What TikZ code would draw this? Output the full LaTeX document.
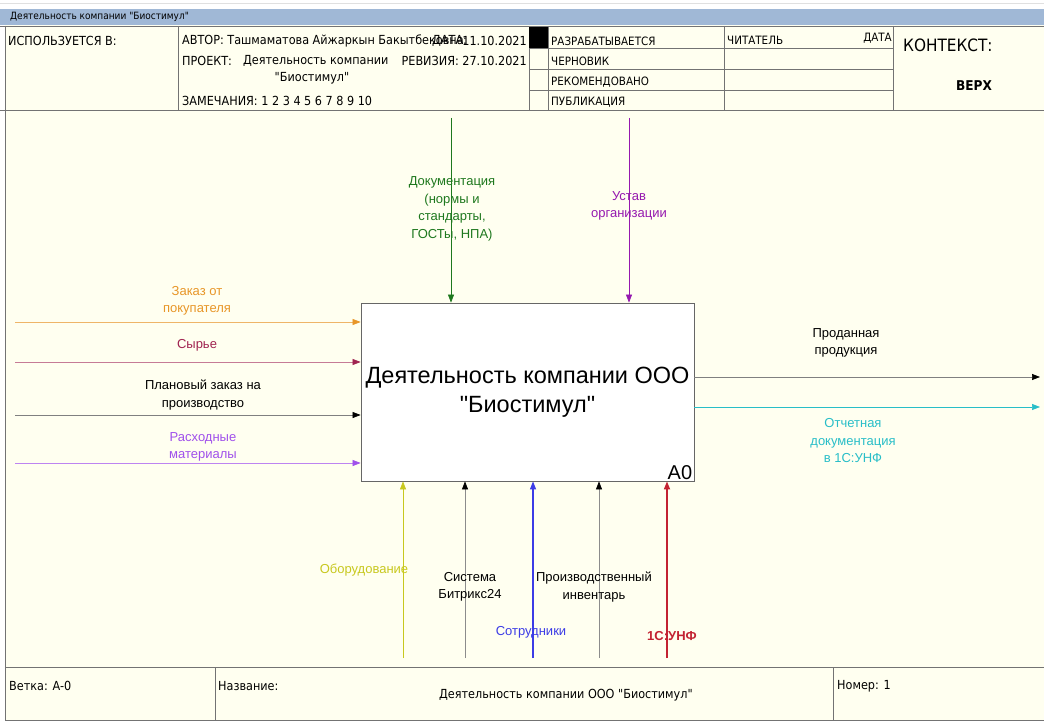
\documentclass[tikz,border=0pt]{standalone}
\usepackage{fontspec}
\setmainfont{Liberation Sans}
\newfontfamily\arialfont{Liberation Sans}
\newfontfamily\hdrfont{DejaVu Sans Condensed}
\usetikzlibrary{arrows.meta}

\definecolor{paper}{RGB}{255,255,240}
\definecolor{titlebar}{RGB}{160,184,214}
\definecolor{ordclr}{RGB}{232,150,40}
\definecolor{rawclr}{RGB}{160,35,80}
\definecolor{supclr}{RGB}{160,80,235}
\definecolor{docclr}{RGB}{30,120,30}
\definecolor{chrclr}{RGB}{150,25,175}
\definecolor{repclr}{RGB}{40,190,200}
\definecolor{eqpclr}{RGB}{200,200,30}
\definecolor{empclr}{RGB}{60,60,230}
\definecolor{unfclr}{RGB}{195,35,50}

\begin{document}
\begin{tikzpicture}[x=1pt,y=-1pt,
    rule/.style={draw=black!55,line width=0.6pt},
    hd/.style={anchor=west,inner sep=0pt,font=\hdrfont\fontsize{12.5}{14}\selectfont},
    cell/.style={hd,font=\hdrfont\fontsize{11.5}{13}\selectfont},
    lbl/.style={align=center,inner sep=0pt,font=\arialfont\fontsize{13}{17.5}\selectfont},
    flow/.style 2 args={draw=#1,line width=0.7pt,-{Triangle[length=8pt,width=6pt,color=#2]}}]

  \useasboundingbox (0,0) rectangle (1044,722);
  % window strip and title bar
  \fill[white] (0,0) rectangle (1044,9);
  \draw[black!12] (0,3) -- (1044,3);
  \fill[titlebar] (0,9) rectangle (1044,25);
  \node[anchor=west,inner sep=0pt,font=\hdrfont\fontsize{10}{11}\selectfont] (ttl) at (10,17) {Деятельность компании "Биостимул"};
  \fill[paper] (5,25) rectangle (1044,720);

  % header
  \draw[rule,line width=0.9pt] (0,26) -- (1044,26) (0,110) -- (1044,110);
  \draw[rule] (178,26) -- (178,110) (529,26) -- (529,110) (548,26) -- (548,110)
              (724,26) -- (724,110) (893,26) -- (893,110);
  \draw[rule] (529,48) -- (893,48) (529,69) -- (893,69) (529,90) -- (893,90);
  \fill[black] (529,27) rectangle (548,48);
  \node[hd] (used) at (8,41) {ИСПОЛЬЗУЕТСЯ В:};
  \node[hd] (auth) at (182,41) {АВТОР: Ташмаматова Айжаркын Бакытбековна};
  \node[hd] (date) at (432,41) {ДАТА:};
  \node[hd,anchor=east] (dval) at (527,41) {11.10.2021};
  \node[hd] (proj) at (182,61) {ПРОЕКТ:};
  \node[hd] (pnam) at (243,61) {Деятельность компании};
  \node[hd,anchor=east] (rev) at (527,61) {РЕВИЗИЯ: 27.10.2021};
  \node[hd,anchor=center] (pnam2) at (312,78) {"Биостимул"};
  \node[hd] (notes) at (182,101) {ЗАМЕЧАНИЯ: 1 2 3 4 5 6 7 8 9 10};
  \node[cell] (st1) at (551,41) {РАЗРАБАТЫВАЕТСЯ};
  \node[cell] (st2) at (551,61) {ЧЕРНОВИК};
  \node[cell] (st3) at (551,82) {РЕКОМЕНДОВАНО};
  \node[cell] (st4) at (551,102) {ПУБЛИКАЦИЯ};
  \node[cell] (rdr) at (727,40) {ЧИТАТЕЛЬ};
  \node[cell,anchor=east] (rdt) at (892,38) {ДАТА};
  \node[hd,font=\hdrfont\fontsize{17}{19}\selectfont] (ctx) at (903,45) {КОНТЕКСТ:};
  \node[hd,anchor=center,font=\hdrfont\bfseries\fontsize{13.5}{15}\selectfont] (top) at (974,86) {ВЕРХ};

  % footer
  \draw[rule,line width=0.9pt] (5,667) -- (1044,667) (5,720) -- (1044,720) (5,26) -- (5,720);
  \draw[rule] (215,667) -- (215,720) (833,667) -- (833,720);
  \node[hd] (node) at (9,686) {Ветка: A-0};
  \node[hd] (name) at (218,686) {Название:};
  \node[hd,anchor=center] (title) at (566,695) {Деятельность компании ООО "Биостимул"};
  \node[hd] (num) at (837,686) {Номер: 1};

  % activity box
  \node[draw=black!60,line width=0.8pt,fill=white,minimum width=333pt,minimum height=178pt,
        align=center,font=\arialfont\fontsize{23.5}{29}\selectfont,inner sep=0pt] (act) at (527.5,392)
        {Деятельность компании ООО\\"Биостимул"};
  \node[anchor=south east,inner sep=2pt,font=\arialfont\fontsize{20}{22}\selectfont] (a0) at (act.south east) {A0};

  % inputs
  \coordinate (ord) at (15,322);
  \coordinate (raw) at (15,362);
  \coordinate (pln) at (15,415);
  \coordinate (sup) at (15,463);
  \draw[flow={ordclr!70}{ordclr}] (ord) -- (ord -| act.west);
  \draw[flow={rawclr!60}{rawclr}] (raw) -- (raw -| act.west);
  \draw[flow={black!50}{black}] (pln) -- (pln -| act.west);
  \draw[flow={supclr!70}{supclr}] (sup) -- (sup -| act.west);
  \node[lbl,text=ordclr] (ordl) at (197,301) {Заказ от\\покупателя};
  \node[lbl,text=rawclr] (rawl) at (197,345) {Сырье};
  \node[lbl] (plnl) at (203,395) {Плановый заказ на\\производство};
  \node[lbl,text=supclr] (supl) at (203,447) {Расходные\\материалы};

  % outputs
  \coordinate (sold) at (1040,377);
  \coordinate (rep) at (1040,407);
  \draw[flow={black!50}{black}] (sold -| act.east) -- (sold);
  \draw[flow={repclr}{repclr}] (rep -| act.east) -- (rep);
  \node[lbl] (soldl) at (846,343) {Проданная\\продукция};
  \node[lbl,text=repclr] (repl) at (853,441) {Отчетная\\документация\\в 1С:УНФ};

  % controls
  \coordinate (doc) at (451,118);
  \coordinate (chr) at (629,118);
  \draw[flow={docclr}{docclr}] (doc) -- (doc |- act.north);
  \draw[flow={chrclr}{chrclr}] (chr) -- (chr |- act.north);
  \node[lbl,text=docclr] (docl) at (452,209) {Документация\\(нормы и\\стандарты,\\ГОСТы, НПА)};
  \node[lbl,text=chrclr] (chrl) at (629,206) {Устав\\организации};

  % mechanisms
  \coordinate (eqp) at (403,658);
  \coordinate (btx) at (465,658);
  \coordinate (emp) at (533,658);
  \coordinate (inv) at (599,658);
  \coordinate (unf) at (667,658);
  \draw[flow={eqpclr}{eqpclr}] (eqp) -- (eqp |- act.south);
  \draw[flow={black!45}{black}] (btx) -- (btx |- act.south);
  \draw[flow={empclr}{empclr},line width=1.1pt] (emp) -- (emp |- act.south);
  \draw[flow={black!45}{black}] (inv) -- (inv |- act.south);
  \draw[flow={unfclr}{unfclr},line width=1.6pt] (unf) -- (unf |- act.south);
  \node[lbl,text=eqpclr] (eqpl) at (364,570) {Оборудование};
  \node[lbl] (btxl) at (470,587) {Система\\Битрикс24};
  \node[lbl] (invl) at (594,587) {Производственный\\инвентарь};
  \node[lbl,text=empclr] (empl) at (531,632) {Сотрудники};
  \node[lbl,text=unfclr,font=\arialfont\bfseries\fontsize{13}{15}\selectfont] (unfl) at (672,636) {1С:УНФ};
\end{tikzpicture}
\end{document}
